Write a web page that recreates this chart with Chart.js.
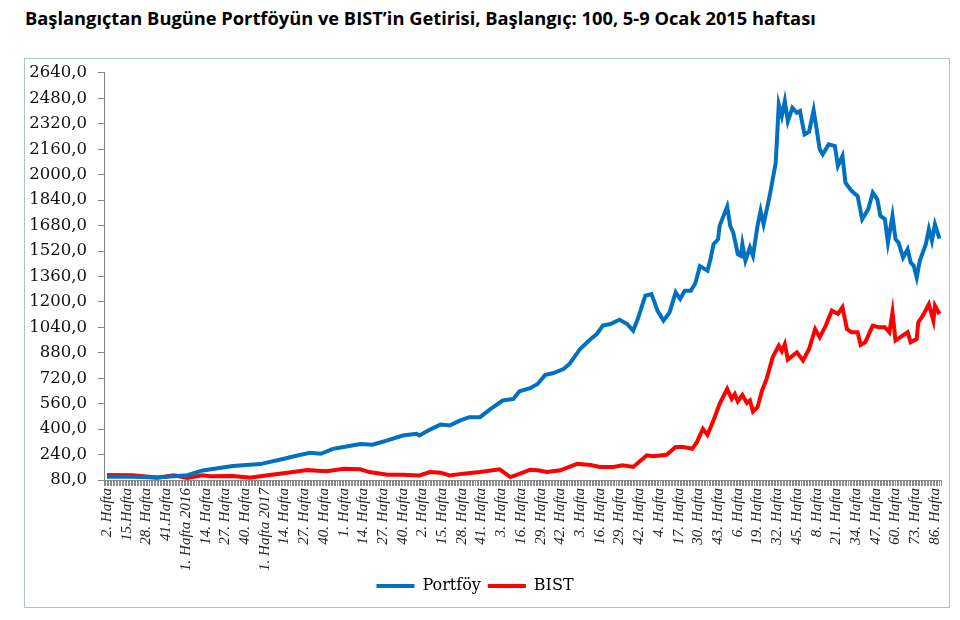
<!DOCTYPE html>
<html>
<head>
<meta charset="utf-8">
<script src="https://cdn.jsdelivr.net/npm/chart.js@4.4.1/dist/chart.umd.min.js"></script>
<style>
  body { margin: 0; width: 960px; height: 620px; background: #fff; position: relative; overflow: hidden; }
  #title { position: absolute; left: 25px; top: 5px; font: bold 18.3px 'Open Sans', sans-serif; color: #000; white-space: nowrap; }
  #box { position: absolute; left: 24px; top: 58px; width: 924px; height: 548px; border: 1.5px solid #a9c0de; }
  #c { position: absolute; left: 25px; top: 52px; }
</style>
</head>
<body>
<div id="title">Başlangıçtan Bugüne Portföyün ve BIST’in Getirisi, Başlangıç: 100, 5-9 Ocak 2015 haftası</div>
<div id="box"></div>
<canvas id="c" width="936" height="555"></canvas>
<script>
// hafta etiketleri (her 13 haftada bir)
const xTickLabels = [
  '2. Hafta', '15.Hafta', '28. Hafta', '41.Hafta',
  '1. Hafta 2016', '14. Hafta', '27. Hafta', '40. Hafta',
  '1. Hafta 2017', '14. Hafta', '27. Hafta', '40. Hafta',
  '1. Hafta', '14. Hafta', '27. Hafta', '40. Hafta',
  '2. Hafta', '15. Hafta', '28. Hafta', '41. Hafta',
  '3. Hafta', '16. Hafta', '29. Hafta', '42. Hafta',
  '3. Hafta', '16. Hafta', '29. Hafta', '42. Hafta',
  '4. Hafta', '17. Hafta', '30. Hafta', '43. Hafta',
  '6. Hafta', '19. Hafta', '32. Hafta', '45. Hafta',
  '8. Hafta', '21. Hafta', '34. Hafta', '47. Hafta', '60. Hafta', '73. Hafta', '86. Hafta'
];
const labelStep = 13;
const firstWeek = -2;
const lastWeek = 550;

// Portföy (hafta no, değer)
const portfoyWeeks = [0, 17, 33, 44, 53, 63, 83, 101, 116, 127, 134, 141, 149, 156, 167, 175, 185, 195, 204, 206,
  213, 220, 226, 233, 239, 246, 253, 261, 268, 272, 279, 284, 289, 294, 301, 305, 312, 319, 323, 327,
  332, 338, 343, 347, 350, 355, 359, 361, 363, 367, 371, 375, 378, 381, 385, 388, 391, 396, 398, 400,
  403, 404, 409, 411, 413, 416, 418, 419, 421, 424, 426, 429, 431, 433, 437, 441, 443, 445, 447, 449,
  452, 455, 457, 460, 463, 466, 468, 470, 472, 476, 480, 482, 485, 487, 491, 495, 498, 502, 505, 508,
  510, 513, 515, 518, 520, 522, 525, 528, 530, 532, 534, 536, 540, 542, 544, 546, 549];
const portfoy = [100, 100, 96, 104, 110, 140, 168, 180, 212, 237, 251, 245, 276, 287, 306, 302, 329, 360, 371, 360,
  397, 429, 423, 455, 475, 475, 527, 580, 590, 638, 657, 684, 741, 751, 778, 810, 904, 967, 998, 1051,
  1061, 1088, 1061, 1019, 1092, 1239, 1249, 1200, 1145, 1082, 1134, 1260, 1218, 1270, 1270, 1317, 1425, 1396, 1469, 1563,
  1594, 1678, 1799, 1678, 1636, 1500, 1490, 1563, 1459, 1542, 1490, 1678, 1772, 1688, 1866, 2075, 2441, 2368, 2463, 2336,
  2420, 2389, 2400, 2253, 2270, 2405, 2285, 2160, 2128, 2191, 2180, 2055, 2117, 1950, 1898, 1866, 1720, 1783, 1887, 1845,
  1741, 1720, 1573, 1741, 1594, 1573, 1479, 1531, 1448, 1427, 1354, 1459, 1563, 1657, 1584, 1688, 1598];

// BIST (hafta no, değer)
const bistWeeks = [0, 17, 33, 44, 53, 63, 68, 83, 94, 106, 119, 132, 139, 145, 156, 167, 173, 185, 195, 206,
  213, 220, 226, 235, 246, 259, 266, 272, 279, 284, 290, 299, 310, 319, 325, 334, 340, 347, 356, 360,
  369, 375, 380, 386, 389, 393, 396, 400, 404, 409, 412, 414, 416, 419, 422, 424, 426, 429, 432, 435,
  439, 443, 445, 447, 449, 455, 459, 463, 467, 470, 474, 478, 482, 485, 488, 491, 495, 497, 500, 505,
  509, 513, 516, 518, 520, 523, 528, 530, 534, 535, 538, 542, 545, 546, 549];
const bist = [112, 110, 95, 110, 93, 110, 104, 105, 95, 110, 126, 143, 138, 135, 151, 147, 130, 113, 113, 109,
  130, 126, 109, 120, 130, 147, 98, 118, 145, 141, 130, 141, 182, 174, 162, 162, 172, 162, 235, 230,
  239, 287, 287, 276, 318, 402, 364, 455, 559, 653, 590, 620, 574, 615, 565, 580, 511, 538, 643, 716,
  852, 925, 890, 935, 837, 883, 831, 904, 1029, 977, 1051, 1145, 1124, 1166, 1029, 1009, 1009, 929, 946, 1051,
  1040, 1040, 1009, 1134, 957, 977, 1009, 946, 967, 1071, 1113, 1186, 1082, 1176, 1124];

const yMin = 80, yMax = 2640, yStep = 160;

const toPoints = (weeks, vals) => weeks.map((w, i) => ({ x: w, y: vals[i] }));

// lejant ortada değil, biraz solda
const legendShift = {
  id: 'legendShift',
  afterLayout(chart) {
    chart.legend.left -= 18;
    chart.legend.right -= 18;
  },
};

new Chart(document.getElementById('c'), {
  type: 'line',
  data: {
    datasets: [
      {
        label: 'Portföy',
        data: toPoints(portfoyWeeks, portfoy),
        borderColor: '#0070C0',
        backgroundColor: '#0070C0',
        borderWidth: 4,
        pointRadius: 0,
        tension: 0,
      },
      {
        label: 'BIST',
        data: toPoints(bistWeeks, bist),
        borderColor: '#FF0000',
        backgroundColor: '#FF0000',
        borderWidth: 4,
        pointRadius: 0,
        tension: 0,
      },
    ],
  },
  plugins: [legendShift],
  options: {
    responsive: false,
    animation: false,
    layout: { padding: { left: 0, right: 0, top: 2, bottom: 3 } },
    plugins: {
      tooltip: { enabled: false },
      legend: {
        position: 'bottom',
        labels: {
          usePointStyle: true,
          pointStyle: 'line',
          pointStyleWidth: 38,
          padding: 7,
          color: '#000',
          font: { family: 'DejaVu Serif', size: 16 },
        },
      },
    },
    scales: {
      x: {
        type: 'linear',
        min: firstWeek,
        max: lastWeek,
        afterFit: (s) => { s.height = 91; },
        grid: { drawOnChartArea: false, drawTicks: true, tickLength: 6, color: '#8a8a8a', lineWidth: 1 },
        border: { display: true, color: '#8a8a8a', width: 1 },
        ticks: {
          stepSize: 1,
          autoSkip: false,
          minRotation: 90,
          maxRotation: 90,
          padding: 2,
          color: '#222',
          font: { family: 'Liberation Serif', size: 15, style: 'italic' },
          callback: (v) => (v >= 0 && v % labelStep === 0 ? xTickLabels[v / labelStep] : ''),
        },
      },
      y: {
        min: yMin,
        max: yMax,
        afterFit: (s) => { s.width = 79; },
        grid: { drawOnChartArea: false, drawTicks: true, tickLength: 6, color: '#868686' },
        border: { display: true, color: '#868686', width: 1 },
        ticks: {
          stepSize: yStep,
          padding: 11,
          color: '#111',
          font: { family: 'DejaVu Serif', size: 16.5 },
          callback: (v) => v.toFixed(1).replace('.', ','),
        },
      },
    },
  },
});
</script>
</body>
</html>
